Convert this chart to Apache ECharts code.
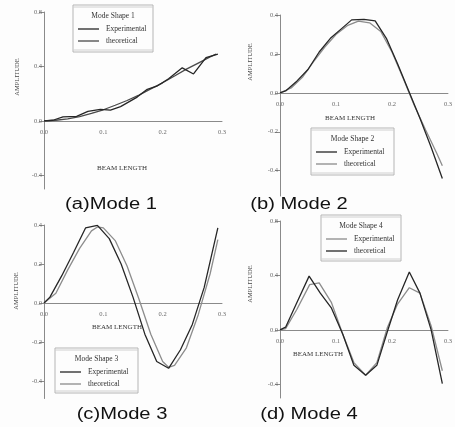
<!DOCTYPE html>
<html>
<head>
<meta charset="utf-8">
<script src="https://cdn.jsdelivr.net/npm/echarts@6/dist/echarts.min.js"></script>
<style>
html,body{margin:0;padding:0;background:#fdfdfd;}
#chart{width:455px;height:427px;}
</style>
</head>
<body>
<div id="chart"></div>
<script>
// ---- Data ----
const captions = ['(a)Mode 1', '(b) Mode 2', '(c)Mode 3', '(d) Mode 4'];
const legendTitles = ['Mode Shape 1', 'Mode Shape 2', 'Mode Shape 3', 'Mode Shape 4'];
const seriesNames = ['Experimental', 'theoretical'];
const xTicks = [0, 0.1, 0.2, 0.3];
const yTicksA = [-0.4, 0, 0.4, 0.8];
const yTicksB = [-0.4, -0.2, 0, 0.2, 0.4];
const yTicksC = [-0.4, -0.2, 0, 0.2, 0.4];
const yTicksD = [-0.4, 0, 0.4, 0.8];

// Mode 1
const m1ExpX = [0, 0.015, 0.032, 0.055, 0.074, 0.095, 0.112, 0.129, 0.157, 0.174, 0.19, 0.21, 0.233, 0.252, 0.273, 0.293];
const m1ExpY = [0, 0.005, 0.03, 0.034, 0.07, 0.085, 0.08, 0.105, 0.175, 0.232, 0.255, 0.31, 0.39, 0.345, 0.465, 0.49];
const m1TheX = [0, 0.02, 0.04, 0.06, 0.08, 0.10, 0.12, 0.14, 0.16, 0.18, 0.20, 0.22, 0.24, 0.26, 0.28, 0.29];
const m1TheY = [0, 0.005, 0.015, 0.032, 0.055, 0.082, 0.115, 0.15, 0.19, 0.235, 0.28, 0.33, 0.38, 0.425, 0.47, 0.49];
// Mode 2
const m2ExpX = [0, 0.01, 0.03, 0.05, 0.07, 0.09, 0.11, 0.128, 0.15, 0.17, 0.19, 0.21, 0.23, 0.25, 0.27, 0.29];
const m2ExpY = [0, 0.01, 0.06, 0.12, 0.21, 0.28, 0.33, 0.375, 0.378, 0.37, 0.28, 0.15, 0.01, -0.13, -0.28, -0.44];
const m2TheX = [0, 0.02, 0.04, 0.06, 0.08, 0.10, 0.12, 0.14, 0.16, 0.18, 0.20, 0.22, 0.24, 0.26, 0.28, 0.29];
const m2TheY = [0, 0.025, 0.08, 0.16, 0.235, 0.3, 0.345, 0.368, 0.36, 0.315, 0.21, 0.075, -0.065, -0.19, -0.31, -0.375];
// Mode 3
const m3ExpX = [0, 0.01, 0.03, 0.05, 0.07, 0.09, 0.11, 0.13, 0.15, 0.17, 0.19, 0.21, 0.23, 0.25, 0.27, 0.293];
const m3ExpY = [0, 0.03, 0.14, 0.26, 0.385, 0.398, 0.33, 0.2, 0.03, -0.16, -0.3, -0.335, -0.24, -0.11, 0.08, 0.385];
const m3TheX = [0, 0.02, 0.04, 0.06, 0.08, 0.09, 0.10, 0.12, 0.14, 0.16, 0.18, 0.20, 0.21, 0.22, 0.24, 0.26, 0.28, 0.293];
const m3TheY = [0, 0.05, 0.17, 0.28, 0.37, 0.39, 0.385, 0.32, 0.19, 0.02, -0.16, -0.3, -0.33, -0.32, -0.23, -0.06, 0.15, 0.325];
// Mode 4
const m4ExpX = [0, 0.01, 0.03, 0.053, 0.07, 0.092, 0.112, 0.132, 0.153, 0.173, 0.192, 0.21, 0.231, 0.25, 0.27, 0.29];
const m4ExpY = [0, 0.01, 0.15, 0.333, 0.346, 0.2, -0.03, -0.24, -0.333, -0.24, 0.02, 0.19, 0.31, 0.27, 0.03, -0.3];
const m4TheX = [0, 0.01, 0.03, 0.052, 0.072, 0.092, 0.112, 0.132, 0.153, 0.173, 0.192, 0.21, 0.231, 0.25, 0.27, 0.29];
const m4TheY = [0, 0.02, 0.2, 0.395, 0.27, 0.16, -0.03, -0.26, -0.333, -0.26, -0.01, 0.22, 0.425, 0.27, 0, -0.395];

// ---- Layout / style ----
const DARK = '#262626', LIGHT = '#8c8c8c', MID = '#4a4a4a';
const SERIF = '"Liberation Serif","DejaVu Serif",serif';
const SANS = '"Liberation Sans",Arial,sans-serif';
const pair = (xs, ys) => xs.map((x, i) => [x, ys[i]]);

const grids = [
  {left: 44, top: 12, width: 178, height: 177},
  {left: 280, top: 15, width: 177, height: 181},
  {left: 44, top: 225, width: 178, height: 173.5},
  {left: 280, top: 221, width: 177, height: 177}
];
const yRanges = [[-0.5, 0.8, yTicksA], [-0.53, 0.4, yTicksB], [-0.49, 0.4, yTicksC], [-0.5, 0.8, yTicksD]];

const xAxes = grids.map((g, i) => {
  const r = yRanges[i];
  const zeroFromBottom = (0 - r[0]) / (r[1] - r[0]) * g.height;
  return {
    type: 'value', gridIndex: i, min: 0, max: 0.3, position: 'bottom',
    offset: -zeroFromBottom,
    axisLine: {onZero: false, lineStyle: {color: '#8a8a8a', width: 1}},
    axisTick: {show: false},
    splitLine: {show: false},
    axisLabel: {customValues: xTicks, margin: 8, color: '#6a6a6a', fontSize: 6.5, fontFamily: SERIF,
      formatter: v => v.toFixed(1)}
  };
});
const yAxes = yRanges.map((r, i) => ({
  type: 'value', gridIndex: i, min: r[0], max: r[1],
  axisLine: {show: true, onZero: false, lineStyle: {color: '#8a8a8a', width: 1}},
  axisTick: {show: true, customValues: r[2], length: 5, lineStyle: {color: '#8a8a8a'}},
  splitLine: {show: false},
  axisLabel: {customValues: r[2], margin: 2, color: '#6a6a6a', fontSize: 6.5, fontFamily: SERIF,
    formatter: v => v.toFixed(1)}
}));

const modeData = [
  [pair(m1ExpX, m1ExpY), pair(m1TheX, m1TheY), DARK, MID],
  [pair(m2ExpX, m2ExpY), pair(m2TheX, m2TheY), DARK, LIGHT],
  [pair(m3ExpX, m3ExpY), pair(m3TheX, m3TheY), DARK, LIGHT],
  [pair(m4ExpX, m4ExpY), pair(m4TheX, m4TheY), LIGHT, DARK]
];
const series = [];
modeData.forEach((m, i) => {
  const order = (m[2] === LIGHT) ? [0, 1] : [1, 0];
  order.forEach(k => {
    series.push({
      name: seriesNames[k] + ' ' + (i + 1), type: 'line', xAxisIndex: i, yAxisIndex: i,
      data: m[k], symbol: 'none', smooth: false, silent: true,
      lineStyle: {color: m[2 + k], width: 1.3}
    });
  });
});

// ---- Graphic texts: captions, axis titles, legend boxes ----
const graphic = [];
const capPos = [[111, 205], [299, 205], [122, 415], [309, 415]];
captions.forEach((c, i) => graphic.push({
  type: 'text', x: capPos[i][0], y: capPos[i][1], scaleX: 1.26,
  style: {text: c, font: '16px ' + SANS, fill: '#111', textAlign: 'center', textVerticalAlign: 'middle', align: 'center', verticalAlign: 'middle'}
}));
const ampPos = [[17, 77], [250, 62], [16, 291], [250, 284]];
ampPos.forEach(p => graphic.push({
  type: 'text', x: p[0], y: p[1], rotation: Math.PI / 2,
  style: {text: 'AMPLITUDE', font: '6.5px ' + SERIF, fill: '#444', textAlign: 'center', textVerticalAlign: 'middle', align: 'center', verticalAlign: 'middle'}
}));
const beamPos = [[122, 168], [350, 118], [117, 327], [318, 354]];
beamPos.forEach(p => graphic.push({
  type: 'text', x: p[0], y: p[1],
  style: {text: 'BEAM LENGTH', font: '7px ' + SERIF, fill: '#333', textAlign: 'center', textVerticalAlign: 'middle', align: 'center', verticalAlign: 'middle'}
}));

const legBoxes = [
  [73, 5, 80, 47],
  [311, 128, 83, 47],
  [55, 348, 83, 45],
  [321, 215, 80, 46]
];
legBoxes.forEach((b, i) => {
  const [x, y, w, h] = b;
  const cx = x + w / 2;
  const colors = [modeData[i][2], modeData[i][3]];
  graphic.push({type: 'rect', shape: {x: x, y: y, width: w, height: h},
    style: {fill: 'rgba(255,255,255,0)', stroke: '#b5b5b5', lineWidth: 1}});
  graphic.push({type: 'line', shape: {x1: x, y1: y + 2, x2: x + w, y2: y + 2}, style: {stroke: '#d0d0d0', lineWidth: 1}});
  graphic.push({type: 'line', shape: {x1: x, y1: y + h - 2, x2: x + w, y2: y + h - 2}, style: {stroke: '#d0d0d0', lineWidth: 1}});
  graphic.push({type: 'text', x: cx, y: y + 11.5,
    style: {text: legendTitles[i], font: '7.5px ' + SERIF, fill: '#333', textAlign: 'center', textVerticalAlign: 'middle', align: 'center', verticalAlign: 'middle'}});
  [0, 1].forEach(k => {
    const ry = y + 24 + k * 12;
    graphic.push({type: 'line', shape: {x1: x + 5, y1: ry, x2: x + 26, y2: ry},
      style: {stroke: colors[k], lineWidth: 1.3}});
    graphic.push({type: 'text', x: x + 33, y: ry,
      style: {text: seriesNames[k], font: '7.5px ' + SERIF, fill: '#333', textAlign: 'left', textVerticalAlign: 'middle', align: 'left', verticalAlign: 'middle'}});
  });
});

const chart = echarts.init(document.getElementById('chart'), null, {renderer: 'canvas'});
chart.setOption({
  backgroundColor: '#fdfdfd',
  animation: false,
  grid: grids.map(g => Object.assign({containLabel: false}, g)),
  xAxis: xAxes,
  yAxis: yAxes,
  series: series,
  graphic: graphic
});
</script>
</body>
</html>
